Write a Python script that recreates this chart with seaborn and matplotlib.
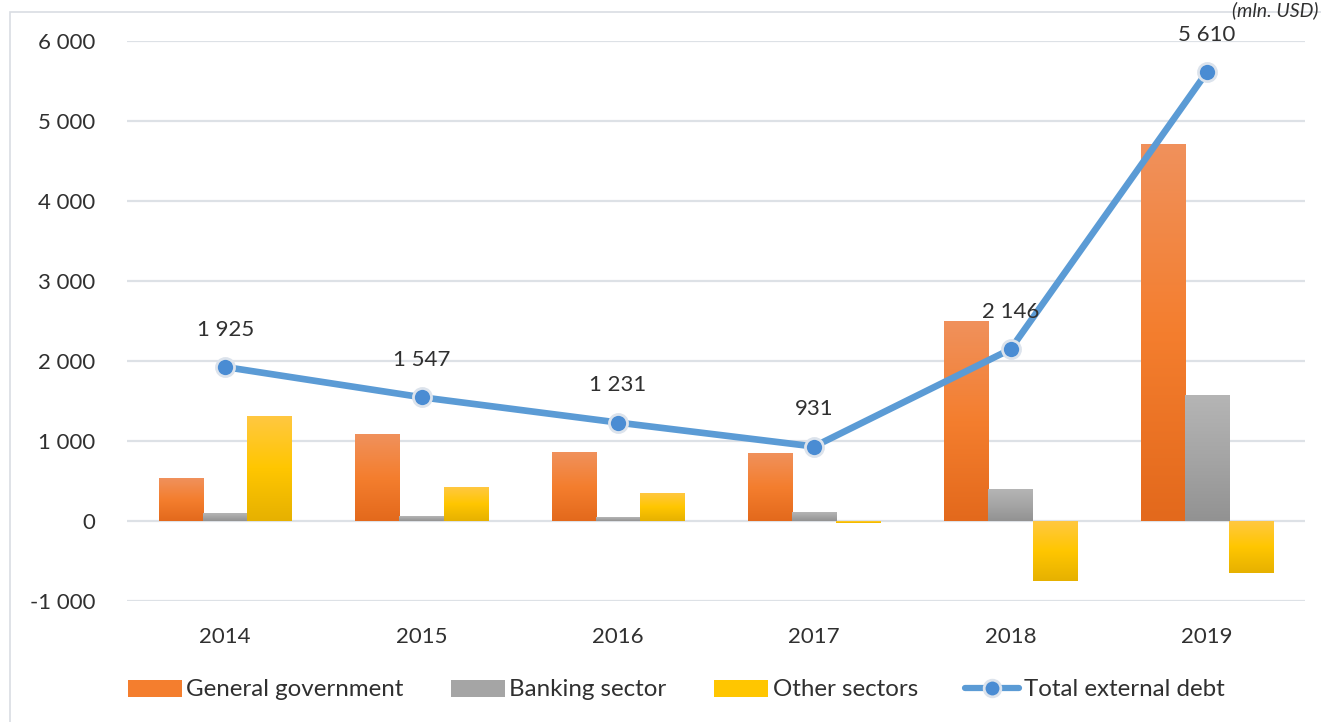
import numpy as np
import pandas as pd
import matplotlib
matplotlib.use("Agg")
import matplotlib.pyplot as plt
import seaborn as sns
from matplotlib.colors import LinearSegmentedColormap
from matplotlib.patches import Patch, Rectangle
from matplotlib.lines import Line2D
from matplotlib.ticker import FuncFormatter, MultipleLocator

years = ["2014", "2015", "2016", "2017", "2018", "2019"]
general_government = [537, 1087, 862, 850, 2500, 4716]
banking_sector = [96, 62, 50, 112, 400, 1575]
other_sectors = [1312, 425, 350, -25, -750, -650]
total_external_debt = [1925, 1547, 1231, 931, 2146, 5610]
sectors = ["General government", "Banking sector", "Other sectors"]

# top -> middle -> bottom colours of the Excel-like gradient fill
gradients = {
    "General government": ["#F0915C", "#F47E2E", "#E3691C"],
    "Banking sector": ["#B5B5B5", "#A5A5A5", "#929292"],
    "Other sectors": ["#FFC841", "#FFC600", "#E6B100"],
}
mid_colors = [gradients[s][1] for s in sectors]
line_color = "#5B9BD5"
text_color = "#303030"

df = pd.DataFrame({
    "year": years * 3,
    "sector": np.repeat(sectors, len(years)),
    "value": general_government + banking_sector + other_sectors,
})

sns.set_theme(style="white")
plt.rcParams["font.family"] = ["Lato", "DejaVu Sans"]

fig = plt.figure(figsize=(13.21, 7.22), dpi=100)
ax = fig.add_axes([127 / 1321, 1 - 601 / 722, (1305 - 127) / 1321, 560 / 722])

sns.barplot(data=df, x="year", y="value", hue="sector", hue_order=sectors,
            palette=mid_colors, width=0.675, ax=ax, legend=False,
            saturation=1, linewidth=0, zorder=2)

# replace flat fills with vertical gradients
for sector, container in zip(sectors, ax.containers):
    cmap = LinearSegmentedColormap.from_list(sector, gradients[sector])
    grad = np.linspace(0, 1, 256).reshape(-1, 1)
    for patch in container:
        x0, y0 = patch.get_x(), patch.get_y()
        w, h = patch.get_width(), patch.get_height()
        ylo, yhi = min(y0, y0 + h), max(y0, y0 + h)
        im = ax.imshow(grad, extent=[x0, x0 + w, ylo, yhi], aspect="auto",
                       cmap=cmap, origin="upper", zorder=2, interpolation="bilinear")
        im.set_clip_path(patch)
        patch.set_facecolor("none")

sns.pointplot(x=years, y=total_external_debt, ax=ax, color=line_color,
              markers="o", linewidth=4.8, markersize=13,
              markerfacecolor="#4A8CD3", markeredgecolor="#DCE3EC",
              markeredgewidth=2, zorder=4)

for i, v in enumerate(total_external_debt):
    ax.annotate(f"{v:,}".replace(",", " "), (i, v), xytext=(0, 27),
                textcoords="offset points", ha="center", va="center",
                fontsize=16, color=text_color, zorder=5, annotation_clip=False)

ax.set_xlim(-0.5, 5.5)
ax.set_ylim(-1000, 6000)
ax.yaxis.set_major_locator(MultipleLocator(1000))
ax.yaxis.set_major_formatter(FuncFormatter(lambda v, p: f"{int(v):,}".replace(",", " ")))
ax.grid(axis="y", color="#DDE1E6", linewidth=1.6, zorder=0)
ax.set_axisbelow(True)
for s in ax.spines.values():
    s.set_visible(False)
ax.set_xlabel("")
ax.set_ylabel("")
ax.tick_params(axis="y", length=0, pad=23, labelsize=16, labelcolor=text_color)
ax.tick_params(axis="x", length=0, pad=19, labelsize=16, labelcolor=text_color)

handles = [Patch(facecolor=c, edgecolor="none") for c in mid_colors]
handles.append(Line2D([0], [0], color=line_color, lw=4.5, marker="o",
                      markersize=12, markerfacecolor="#4A8CD3",
                      markeredgecolor="#DCE3EC", markeredgewidth=2))
fig.legend(handles, sectors + ["Total external debt"], loc="center",
           bbox_to_anchor=(676 / 1321, 1 - 690 / 722), ncol=4, frameon=False,
           fontsize=17.4, handlelength=2.25, handleheight=0.7, handletextpad=0.18,
           columnspacing=1.95, labelcolor=text_color)

# chart area frame and unit note
fig.add_artist(Rectangle((10 / 1321, -0.2), 1.2, 1.2 - 12 / 722,
                         transform=fig.transFigure, fill=False,
                         edgecolor="#D9DDE3", linewidth=1.2))
fig.text(1318 / 1321, 1 - 1 / 722, "(mln. USD)", fontsize=14, style="italic",
         color=text_color, va="top", ha="right")

fig.savefig("out.png", dpi=100)
